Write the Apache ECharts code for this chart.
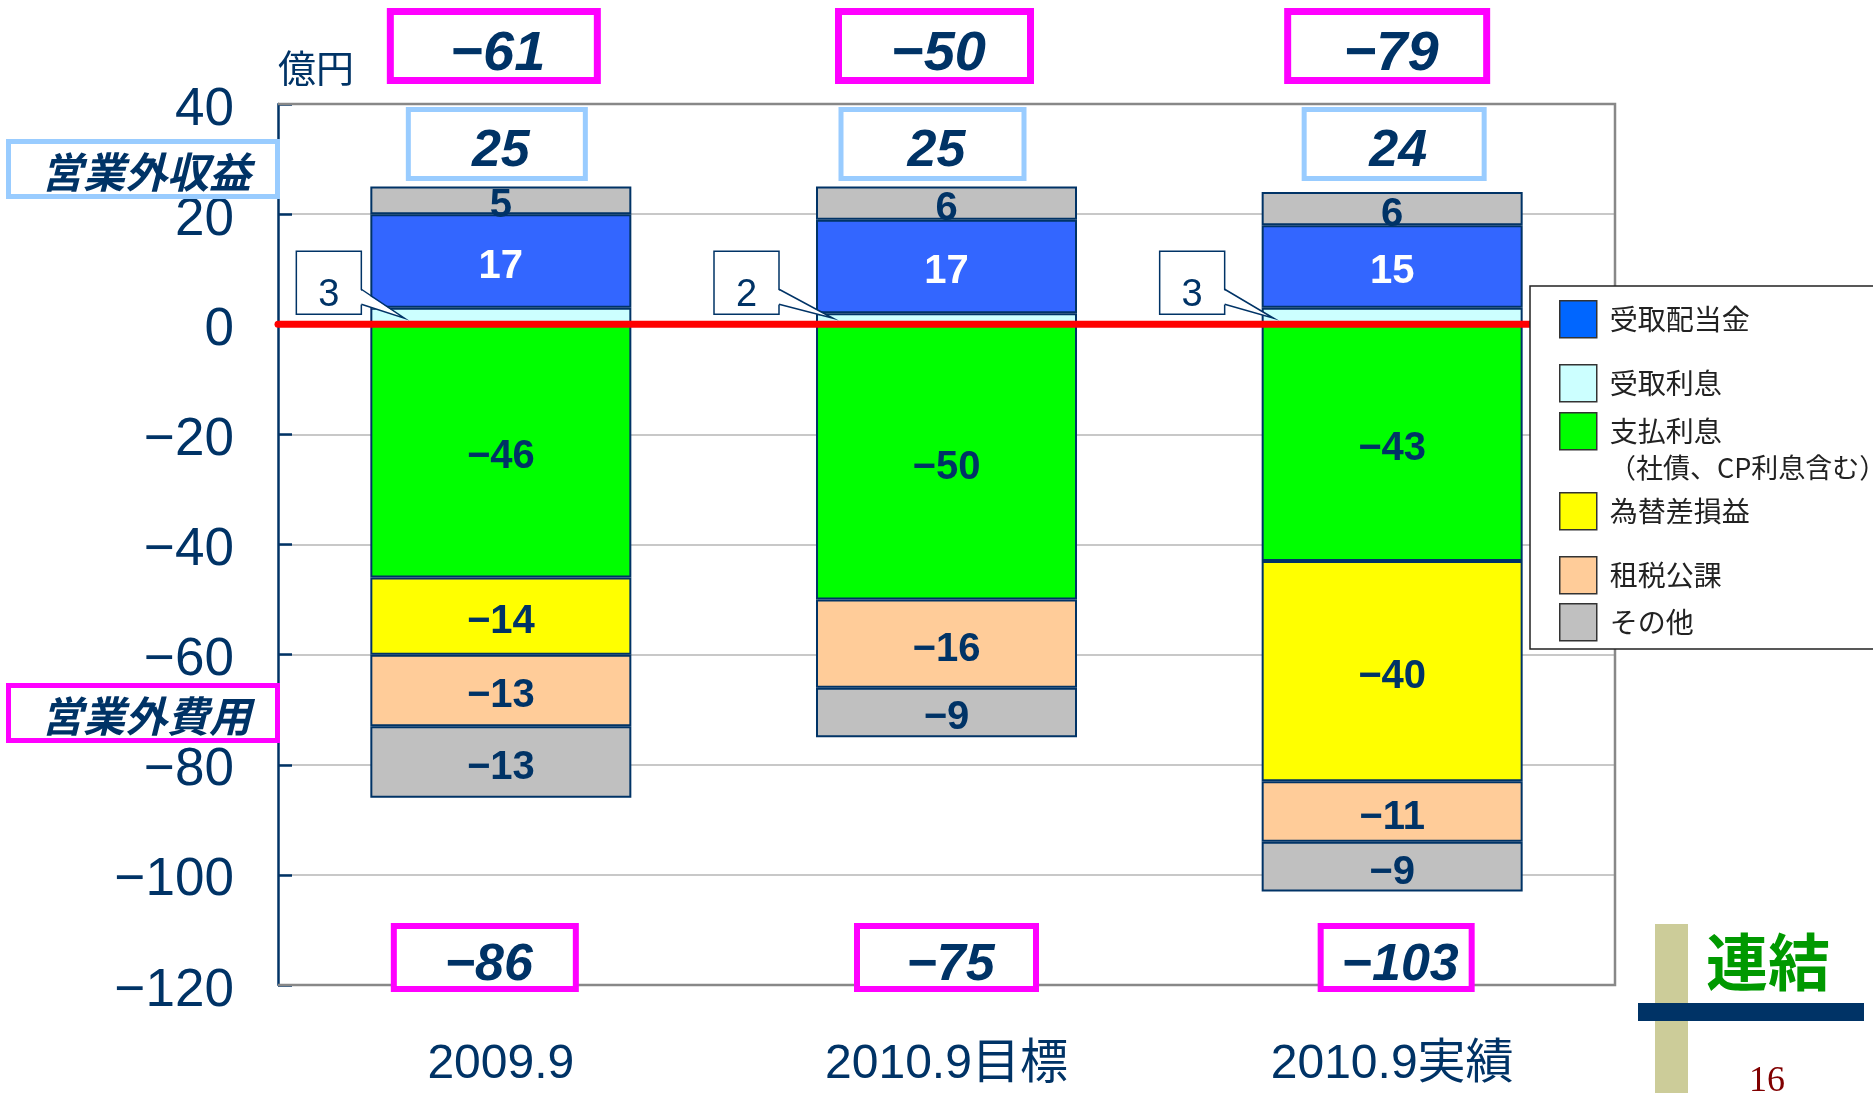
<!DOCTYPE html>
<html>
<head>
<meta charset="utf-8">
<script src="https://cdn.jsdelivr.net/npm/echarts@6.0.0/dist/echarts.min.js"></script>
<style>
  html, body { margin: 0; padding: 0; background: #ffffff; }
  #chart { width: 1873px; height: 1093px; }
</style>
</head>
<body>
<div id="chart"></div>
<script>
// ---- data (億円) ----
const categories = ['2009.9', '2010.9目標', '2010.9実績'];
const interestIncome  = [3, 2, 3];         // 受取利息
const dividendIncome  = [17, 17, 15];      // 受取配当金
const otherIncome     = [5, 6, 6];         // その他（収益）
const interestExpense = [-46, -50, -43];   // 支払利息
const fxLoss          = [-14, null, -40];  // 為替差損益
const taxes           = [-13, -16, -11];   // 租税公課
const otherExpense    = [-13, -9, -9];     // その他（費用）
const incomeTotal  = [25, 25, 24];         // 営業外収益
const expenseTotal = [-86, -75, -103];     // 営業外費用
const netTotal     = [-61, -50, -79];      // 差引
const yMin = -120, yMax = 40, yStep = 20;

// ---- styles ----
const NAVY = '#003366';
const NUM_FONT = "'Liberation Sans', Arial, 'Noto Sans CJK JP', sans-serif";
const CJK_FONT = "'Noto Sans CJK JP', 'Liberation Sans', sans-serif";
const fmt = v => (v < 0 ? '\u2212' + Math.abs(v) : String(v));

function barSeries(name, data, color, labelColor, showLabel) {
  return {
    name: name,
    type: 'bar',
    stack: 'total',
    data: data,
    barWidth: 261,
    itemStyle: { color: color, borderColor: NAVY, borderWidth: 2 },
    label: {
      show: showLabel !== false,
      position: 'inside',
      offset: [0, 6],
      color: labelColor || NAVY,
      fontSize: 40,
      fontWeight: 'bold',
      fontFamily: NUM_FONT,
      formatter: p => fmt(p.value)
    },
    emphasis: { disabled: true },
    animation: false
  };
}

const series = [
  barSeries('受取利息', interestIncome, '#CCFFFF', NAVY, false),
  barSeries('受取配当金', dividendIncome, '#3366FF', '#FFFFFF'),
  barSeries('その他', otherIncome, '#C0C0C0'),
  barSeries('支払利息', interestExpense, '#00FF00'),
  barSeries('為替差損益', fxLoss, '#FFFF00'),
  barSeries('租税公課', taxes, '#FFCC99'),
  barSeries('その他', otherExpense, '#C0C0C0')
];

const legendItems = [
  { name: '受取配当金', color: '#0066FF', top: 300 },
  { name: '受取利息',   color: '#CCFFFF', top: 364 },
  { name: '支払利息',   color: '#00FF00', top: 412 },
  { name: '為替差損益', color: '#FFFF00', top: 492 },
  { name: '租税公課',   color: '#FFCC99', top: 556 },
  { name: 'その他',     color: '#C0C0C0', top: 603 }
];

const option = {
  animation: false,
  backgroundColor: '#ffffff',
  grid: { left: 278, right: 258, top: 104, bottom: 108, containLabel: false },
  xAxis: {
    type: 'category',
    data: categories,
    axisLine: { show: false },
    axisTick: { show: false },
    splitLine: { show: false },
    axisLabel: {
      margin: 80,
      verticalAlign: 'middle',
      fontSize: 48,
      color: NAVY,
      fontFamily: NUM_FONT
    }
  },
  yAxis: {
    type: 'value',
    min: yMin, max: yMax, interval: yStep,
    name: '億円',
    nameLocation: 'end',
    nameGap: 36,
    nameTextStyle: { fontSize: 38, color: NAVY, fontFamily: CJK_FONT, align: 'left', verticalAlign: 'middle' },
    axisLine: { show: true, lineStyle: { color: NAVY, width: 2.5 } },
    axisTick: { show: true, inside: true, length: 14, lineStyle: { color: NAVY, width: 2.5 } },
    splitLine: { show: true, lineStyle: { color: '#C8C8C8', width: 2 } },
    axisLabel: {
      margin: 44,
      fontSize: 53,
      color: NAVY,
      fontFamily: NUM_FONT,
      verticalAlign: 'top',
      lineHeight: 12,
      formatter: v => fmt(v)
    }
  },
  legend: legendItems.map(it => ({
    data: [{ name: it.name, itemStyle: { color: it.color, borderColor: '#333333', borderWidth: 1.5 } }],
    left: 1559,
    top: it.top,
    padding: 0,
    itemWidth: 37,
    itemHeight: 37,
    icon: 'rect',
    selectedMode: false,
    z: 100,
    textStyle: { fontSize: 28, color: '#222222', fontFamily: CJK_FONT, padding: [2, 0, 0, 8] }
  })),
  series: series
};

const chart = echarts.init(document.getElementById('chart'));
chart.setOption(option);

// ---- annotations placed through the axes ----
const gx = i => chart.convertToPixel({ xAxisIndex: 0 }, categories[i]);
const gy = v => chart.convertToPixel({ yAxisIndex: 0 }, v);
const xLeft = gx(0) - (gx(1) - gx(0)) / 2;
const xRight = gx(2) + (gx(1) - gx(0)) / 2;
const yTop = gy(yMax), yBottom = gy(yMin), yZero = gy(0);
const HALF_BAR = 130.5;

const g = [];

// plot frame (top / right / bottom)
g.push({ type: 'polyline', z: 1, silent: true,
  shape: { points: [[xLeft, yTop], [xRight, yTop], [xRight, yBottom], [xLeft, yBottom]] },
  style: { stroke: '#888888', lineWidth: 2.5, fill: null } });

// zero line
g.push({ type: 'line', z: 50, silent: true,
  shape: { x1: xLeft, y1: yZero, x2: xRight, y2: yZero },
  style: { stroke: '#FF0000', lineWidth: 7, lineCap: 'round' } });

// framed number box
function box(cx, y0, w, h, lw, stroke, text, fontSize, dy) {
  g.push({ type: 'rect', z: 60, silent: true,
    shape: { x: cx - w / 2 + lw / 2, y: y0 + lw / 2, width: w - lw, height: h - lw },
    style: { fill: '#ffffff', stroke: stroke, lineWidth: lw } });
  g.push({ type: 'text', z: 61, silent: true, x: cx + 4, y: y0 + h / 2 + (dy || 0),
    style: { text: text, fill: NAVY, font: 'italic bold ' + fontSize + 'px ' + NUM_FONT,
             align: 'center', verticalAlign: 'middle' } });
}

const netLayout = [{ dx: -7, w: 214 }, { dx: -12, w: 199 }, { dx: -5, w: 206 }];
const incLayout = [{ dx: -4, w: 182 }, { dx: -14, w: 188 }, { dx: 2, w: 185 }];
const expLayout = [{ dx: -16, w: 188 }, { dx: 0, w: 185 }, { dx: 4, w: 157 }];

for (let i = 0; i < categories.length; i++) {
  const cx = gx(i);
  box(cx + netLayout[i].dx, 8, netLayout[i].w, 76, 7, '#FF00FF', fmt(netTotal[i]), 56, 9);
  box(cx + incLayout[i].dx, 107, incLayout[i].w, 74, 5, '#99CCFF', fmt(incomeTotal[i]), 52, 8);
  box(cx + expLayout[i].dx, 923, expLayout[i].w, 69, 6, '#FF00FF', fmt(expenseTotal[i]), 52, 8);
}

// callouts for 受取利息
const calloutLayout = [{ bx: -74, tip: 34 }, { bx: -102, tip: 17 }, { bx: -102, tip: 12 }];
for (let i = 0; i < categories.length; i++) {
  const barL = gx(i) - HALF_BAR;
  const bx = barL + calloutLayout[i].bx, bw = 65, bh = 63, by = yZero - 73;
  const tipX = barL + calloutLayout[i].tip, tipY = yZero - 6;
  const y1 = yZero - 35, y2 = yZero - 20;
  g.push({ type: 'rect', z: 60, silent: true,
    shape: { x: bx, y: by, width: bw, height: bh },
    style: { fill: '#ffffff', stroke: NAVY, lineWidth: 1.5 } });
  g.push({ type: 'polygon', z: 61, silent: true,
    shape: { points: [[bx + bw - 2, y1], [tipX, tipY], [bx + bw - 2, y2]] },
    style: { fill: '#ffffff' } });
  g.push({ type: 'polyline', z: 62, silent: true,
    shape: { points: [[bx + bw, y1], [tipX, tipY], [bx + bw, y2]] },
    style: { stroke: NAVY, lineWidth: 1.5, fill: null } });
  g.push({ type: 'text', z: 63, silent: true, x: bx + bw / 2, y: yZero - 29,
    style: { text: fmt(interestIncome[i]), fill: NAVY, font: '38px ' + NUM_FONT,
             align: 'center', verticalAlign: 'middle' } });
}

// side captions
function caption(y0, h, stroke, text) {
  g.push({ type: 'rect', z: 60, silent: true,
    shape: { x: 8.5, y: y0 + 2.5, width: 269, height: h - 5 },
    style: { fill: '#ffffff', stroke: stroke, lineWidth: 5 } });
  g.push({ type: 'text', z: 61, silent: true, x: 146, y: y0 + h / 2 + 3,
    style: { text: text, fill: NAVY, font: 'italic bold 42px ' + CJK_FONT,
             align: 'center', verticalAlign: 'middle' } });
}
caption(139, 60, '#99CCFF', '営業外収益');
caption(683, 60, '#FF00FF', '営業外費用');

// legend frame and second line of 支払利息
g.push({ type: 'rect', z: 90, silent: true,
  shape: { x: 1530, y: 286, width: 360, height: 363 },
  style: { fill: '#ffffff', stroke: '#222222', lineWidth: 1.5 } });
g.push({ type: 'text', z: 101, silent: true, x: 1609, y: 468,
  style: { text: '（社債、CP利息含む）', fill: '#222222', font: '27px ' + CJK_FONT,
           align: 'left', verticalAlign: 'middle' } });

// corner mark
g.push({ type: 'rect', z: 70, silent: true,
  shape: { x: 1655, y: 924, width: 33, height: 180 }, style: { fill: '#CCCC99' } });
g.push({ type: 'rect', z: 71, silent: true,
  shape: { x: 1638, y: 1003, width: 226, height: 18 }, style: { fill: NAVY } });
g.push({ type: 'text', z: 72, silent: true, x: 1768, y: 962,
  style: { text: '連結', fill: '#009900', font: 'bold 62px ' + CJK_FONT,
           align: 'center', verticalAlign: 'middle',
           shadowColor: 'rgba(120,120,120,0.7)', shadowOffsetX: 3, shadowOffsetY: 3, shadowBlur: 2 } });
g.push({ type: 'text', z: 72, silent: true, x: 1767, y: 1064,
  style: { text: '16', fill: '#800000', font: '36px "Liberation Serif", serif',
           align: 'center', verticalAlign: 'top' } });

chart.setOption({ graphic: g });
</script>
</body>
</html>
